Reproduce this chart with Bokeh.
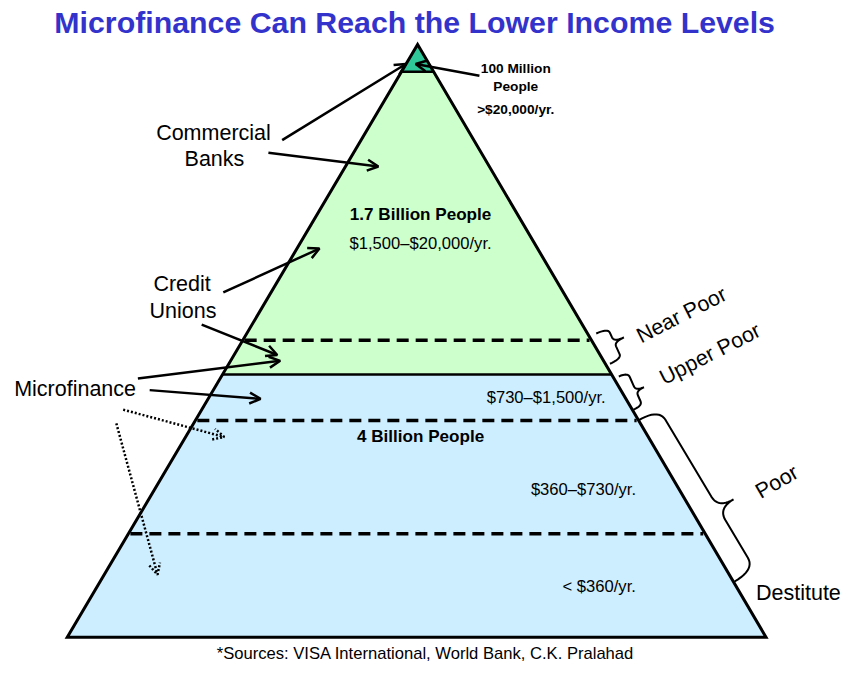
import numpy as np
from bokeh.plotting import figure
from bokeh.models import Range1d, Arrow, OpenHead, ColumnDataSource
from bokeh.core.properties import value
from bokeh.embed import file_html
from bokeh.resources import INLINE

# ---------------- data ----------------
title = "Microfinance Can Reach the Lower Income Levels"
footer = "*Sources: VISA International, World Bank, C.K. Pralahad"

# pyramid geometry (reference pixel space, y downwards)
apex = (425, 45)
base_left_x = 68
base_right_x = 780
base_y = 652
tier_bottom_y = [73, 383, 652]           # top tier, middle tier, bottom tier
tier_colors = ["#2fc898", "#ccffcc", "#cdeeff"]
dashed_y = [348, 430, 546]

# bold labels inside / at apex
bold_text = ["100 Million", "People", ">$20,000/yr.", "1.7 Billion People", "4 Billion People"]
bold_x = [525, 525, 525, 428, 428]
bold_y = [70, 88, 112, 219, 447]
bold_size = [14, 14, 14, 17.5, 17.5]

# regular income labels
inc_text = ["$1,500\u2013$20,000/yr.", "$730\u2013$1,500/yr.", "$360\u2013$730/yr.", "< $360/yr."]
inc_x = [428, 556, 594, 610]
inc_y = [249, 407, 501, 600]

# institution / side labels
side_text = ["Commercial", "Banks", "Credit", "Unions", "Microfinance", "Destitute"]
side_x = [217, 218, 185, 186, 76, 813]
side_y = [136, 162, 290, 318, 398, 607]

# rotated poverty labels
rot_text = ["Near Poor", "Upper Poor", "Poor"]
rot_x = [694, 723, 791]
rot_y = [322, 362, 493]
rot_angle = [27, 27, 30]

# arrows
sol_x0 = [287, 488, 273, 227, 205, 140, 152]
sol_y0 = [143, 77, 156, 299, 332, 387, 399]
sol_x1 = [413, 423, 385, 325, 282, 285, 265]
sol_y1 = [65, 65, 170, 254, 363, 369, 408]
dot_x0 = [125, 118]
dot_y0 = [419, 433]
dot_x1 = [228, 160]
dot_y1 = [447, 588]

# braces: start, end, half width, tip offset, tip fraction, end radius
brace_start = [(607, 341), (630, 385), (650, 430)]
brace_end = [(621, 372), (645, 419), (748, 595)]
brace_h = [13, 10, 24]
brace_tip = [24, 19, 42]
brace_frac = [0.45, 0.55, 0.62]
brace_r = [5, 5, 14]

S = 665 / 681.0  # reference px -> output px


def fs(v):
    return value(f"{v * S:.1f}px")


def edge_x(y, side):
    t = (y - apex[1]) / (base_y - apex[1])
    if side > 0:
        return apex[0] + t * (base_right_x - apex[0])
    return apex[0] - t * (apex[0] - base_left_x)


def quad(p0, c, p1, n=12):
    t = np.linspace(0, 1, n)[:, None]
    p0, c, p1 = map(np.array, (p0, c, p1))
    return (1 - t) ** 2 * p0 + 2 * (1 - t) * t * c + t ** 2 * p1


def brace(s, e, h, tip, f, r):
    s = np.array(s, float)
    e = np.array(e, float)
    L = np.linalg.norm(e - s)
    d = (e - s) / L
    nrm = np.array([d[1], -d[0]])
    m = f * L
    pts = np.vstack([
        quad((0, 0), (0, h), (r, h)),
        quad((m - r, h), (m, h), (m, tip)),
        quad((m, tip), (m, h), (m + r, h)),
        quad((L - r, h), (L, h), (L, 0)),
    ])
    xy = s + pts[:, :1] * d + pts[:, 1:] * nrm
    return list(xy[:, 0]), list(xy[:, 1])


# ---------------- figure ----------------
p = figure(width=846, height=665, x_range=Range1d(0, 862), y_range=Range1d(681, 0),
           output_backend="svg", toolbar_location=None, x_axis_type=None, y_axis_type=None,
           min_border=0, outline_line_color=None)
p.grid.visible = False
p.background_fill_color = "white"

# tiers
tops = [apex[1]] + tier_bottom_y[:-1]
xs, ys = [], []
for top, bot in zip(tops, tier_bottom_y):
    if top == apex[1]:
        xs.append([apex[0], edge_x(bot, 1), edge_x(bot, -1)])
        ys.append([top, bot, bot])
    else:
        xs.append([edge_x(top, -1), edge_x(top, 1), edge_x(bot, 1), edge_x(bot, -1)])
        ys.append([top, top, bot, bot])
p.patches(xs, ys, fill_color=tier_colors, line_color=None)

# tier separators
p.segment([edge_x(y, -1) for y in tier_bottom_y[:-1]], tier_bottom_y[:-1],
          [edge_x(y, 1) for y in tier_bottom_y[:-1]], tier_bottom_y[:-1],
          line_color="black", line_width=2.5)

# dashed lines
p.segment([edge_x(y, -1) + 2 for y in dashed_y], dashed_y,
          [edge_x(y, 1) - 2 for y in dashed_y], dashed_y,
          line_color="black", line_width=3.5, line_dash="12 7")

# outline
p.patch([apex[0], base_right_x, base_left_x], [apex[1], base_y, base_y],
        fill_color=None, line_color="black", line_width=3, line_join="miter")

# braces
bx, by = [], []
for i in range(len(brace_start)):
    a, b = brace(brace_start[i], brace_end[i], brace_h[i], brace_tip[i], brace_frac[i], brace_r[i])
    bx.append(a)
    by.append(b)
p.multi_line(bx, by, line_color="black", line_width=2)

# arrows
sol = ColumnDataSource(dict(x0=sol_x0, y0=sol_y0, x1=sol_x1, y1=sol_y1))
p.add_layout(Arrow(source=sol, x_start="x0", y_start="y0", x_end="x1", y_end="y1",
                   line_color="black", line_width=2.5,
                   end=OpenHead(size=11, line_width=2.5, line_color="black")))
dot = ColumnDataSource(dict(x0=dot_x0, y0=dot_y0, x1=dot_x1, y1=dot_y1))
p.add_layout(Arrow(source=dot, x_start="x0", y_start="y0", x_end="x1", y_end="y1",
                   line_color="black", line_width=2.5, line_dash="2 2",
                   end=OpenHead(size=11, line_width=2.5, line_color="black", line_dash="2 2")))

FONT = value("Liberation Sans")

# texts
p.text([422], [23], text=[title], text_font=FONT, text_font_size=fs(31), text_font_style="bold",
       text_color="#3333cc", text_align="center", text_baseline="middle")
p.text([433], [669], text=[footer], text_font=FONT, text_font_size=fs(17),
       text_color="black", text_align="center", text_baseline="middle")

for t, x, y, s in zip(bold_text, bold_x, bold_y, bold_size):
    p.text([x], [y], text=[t], text_font=FONT, text_font_size=fs(s), text_font_style="bold",
           text_color="black", text_align="center", text_baseline="middle")

p.text(inc_x, inc_y, text=inc_text, text_font=FONT, text_font_size=fs(17),
       text_color="black", text_align="center", text_baseline="middle")

p.text(side_x, side_y, text=side_text, text_font=FONT, text_font_size=fs(22),
       text_color="black", text_align="center", text_baseline="middle")

for t, x, y, a in zip(rot_text, rot_x, rot_y, rot_angle):
    p.text([x], [y], text=[t], angle=a, angle_units="deg", text_font=FONT,
           text_font_size=fs(22), text_color="black", text_align="center", text_baseline="middle")

open("out.html", "w").write(file_html(p, INLINE))
